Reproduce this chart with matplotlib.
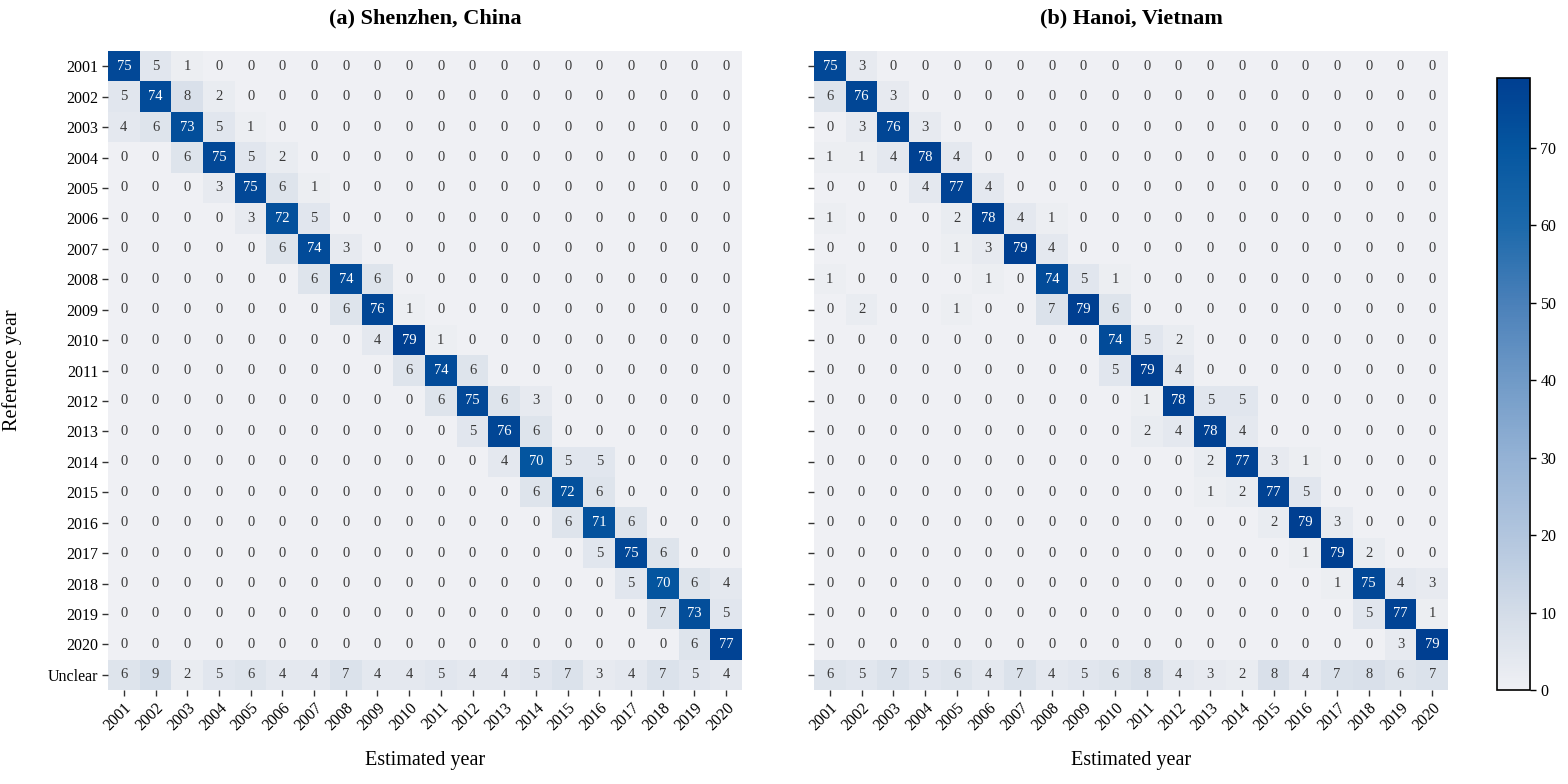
import numpy as np
import matplotlib
matplotlib.use("Agg")
import matplotlib.pyplot as plt
from matplotlib.colors import LinearSegmentedColormap

plt.rcParams['font.family'] = ['Liberation Serif', 'DejaVu Serif']

years = [str(y) for y in range(2001, 2021)]
row_labels = years + ["Unclear"]
col_labels = years

shenzhen = [
    [75, 5, 1, 0, 0, 0, 0, 0, 0, 0, 0, 0, 0, 0, 0, 0, 0, 0, 0, 0],
    [5, 74, 8, 2, 0, 0, 0, 0, 0, 0, 0, 0, 0, 0, 0, 0, 0, 0, 0, 0],
    [4, 6, 73, 5, 1, 0, 0, 0, 0, 0, 0, 0, 0, 0, 0, 0, 0, 0, 0, 0],
    [0, 0, 6, 75, 5, 2, 0, 0, 0, 0, 0, 0, 0, 0, 0, 0, 0, 0, 0, 0],
    [0, 0, 0, 3, 75, 6, 1, 0, 0, 0, 0, 0, 0, 0, 0, 0, 0, 0, 0, 0],
    [0, 0, 0, 0, 3, 72, 5, 0, 0, 0, 0, 0, 0, 0, 0, 0, 0, 0, 0, 0],
    [0, 0, 0, 0, 0, 6, 74, 3, 0, 0, 0, 0, 0, 0, 0, 0, 0, 0, 0, 0],
    [0, 0, 0, 0, 0, 0, 6, 74, 6, 0, 0, 0, 0, 0, 0, 0, 0, 0, 0, 0],
    [0, 0, 0, 0, 0, 0, 0, 6, 76, 1, 0, 0, 0, 0, 0, 0, 0, 0, 0, 0],
    [0, 0, 0, 0, 0, 0, 0, 0, 4, 79, 1, 0, 0, 0, 0, 0, 0, 0, 0, 0],
    [0, 0, 0, 0, 0, 0, 0, 0, 0, 6, 74, 6, 0, 0, 0, 0, 0, 0, 0, 0],
    [0, 0, 0, 0, 0, 0, 0, 0, 0, 0, 6, 75, 6, 3, 0, 0, 0, 0, 0, 0],
    [0, 0, 0, 0, 0, 0, 0, 0, 0, 0, 0, 5, 76, 6, 0, 0, 0, 0, 0, 0],
    [0, 0, 0, 0, 0, 0, 0, 0, 0, 0, 0, 0, 4, 70, 5, 5, 0, 0, 0, 0],
    [0, 0, 0, 0, 0, 0, 0, 0, 0, 0, 0, 0, 0, 6, 72, 6, 0, 0, 0, 0],
    [0, 0, 0, 0, 0, 0, 0, 0, 0, 0, 0, 0, 0, 0, 6, 71, 6, 0, 0, 0],
    [0, 0, 0, 0, 0, 0, 0, 0, 0, 0, 0, 0, 0, 0, 0, 5, 75, 6, 0, 0],
    [0, 0, 0, 0, 0, 0, 0, 0, 0, 0, 0, 0, 0, 0, 0, 0, 5, 70, 6, 4],
    [0, 0, 0, 0, 0, 0, 0, 0, 0, 0, 0, 0, 0, 0, 0, 0, 0, 7, 73, 5],
    [0, 0, 0, 0, 0, 0, 0, 0, 0, 0, 0, 0, 0, 0, 0, 0, 0, 0, 6, 77],
    [6, 9, 2, 5, 6, 4, 4, 7, 4, 4, 5, 4, 4, 5, 7, 3, 4, 7, 5, 4],
]

hanoi = [
    [75, 3, 0, 0, 0, 0, 0, 0, 0, 0, 0, 0, 0, 0, 0, 0, 0, 0, 0, 0],
    [6, 76, 3, 0, 0, 0, 0, 0, 0, 0, 0, 0, 0, 0, 0, 0, 0, 0, 0, 0],
    [0, 3, 76, 3, 0, 0, 0, 0, 0, 0, 0, 0, 0, 0, 0, 0, 0, 0, 0, 0],
    [1, 1, 4, 78, 4, 0, 0, 0, 0, 0, 0, 0, 0, 0, 0, 0, 0, 0, 0, 0],
    [0, 0, 0, 4, 77, 4, 0, 0, 0, 0, 0, 0, 0, 0, 0, 0, 0, 0, 0, 0],
    [1, 0, 0, 0, 2, 78, 4, 1, 0, 0, 0, 0, 0, 0, 0, 0, 0, 0, 0, 0],
    [0, 0, 0, 0, 1, 3, 79, 4, 0, 0, 0, 0, 0, 0, 0, 0, 0, 0, 0, 0],
    [1, 0, 0, 0, 0, 1, 0, 74, 5, 1, 0, 0, 0, 0, 0, 0, 0, 0, 0, 0],
    [0, 2, 0, 0, 1, 0, 0, 7, 79, 6, 0, 0, 0, 0, 0, 0, 0, 0, 0, 0],
    [0, 0, 0, 0, 0, 0, 0, 0, 0, 74, 5, 2, 0, 0, 0, 0, 0, 0, 0, 0],
    [0, 0, 0, 0, 0, 0, 0, 0, 0, 5, 79, 4, 0, 0, 0, 0, 0, 0, 0, 0],
    [0, 0, 0, 0, 0, 0, 0, 0, 0, 0, 1, 78, 5, 5, 0, 0, 0, 0, 0, 0],
    [0, 0, 0, 0, 0, 0, 0, 0, 0, 0, 2, 4, 78, 4, 0, 0, 0, 0, 0, 0],
    [0, 0, 0, 0, 0, 0, 0, 0, 0, 0, 0, 0, 2, 77, 3, 1, 0, 0, 0, 0],
    [0, 0, 0, 0, 0, 0, 0, 0, 0, 0, 0, 0, 1, 2, 77, 5, 0, 0, 0, 0],
    [0, 0, 0, 0, 0, 0, 0, 0, 0, 0, 0, 0, 0, 0, 2, 79, 3, 0, 0, 0],
    [0, 0, 0, 0, 0, 0, 0, 0, 0, 0, 0, 0, 0, 0, 0, 1, 79, 2, 0, 0],
    [0, 0, 0, 0, 0, 0, 0, 0, 0, 0, 0, 0, 0, 0, 0, 0, 1, 75, 4, 3],
    [0, 0, 0, 0, 0, 0, 0, 0, 0, 0, 0, 0, 0, 0, 0, 0, 0, 5, 77, 1],
    [0, 0, 0, 0, 0, 0, 0, 0, 0, 0, 0, 0, 0, 0, 0, 0, 0, 0, 3, 79],
    [6, 5, 7, 5, 6, 4, 7, 4, 5, 6, 8, 4, 3, 2, 8, 4, 7, 8, 6, 7],
]

titles = ["(a) Shenzhen, China", "(b) Hanoi, Vietnam"]
cbar_ticks = [0, 10, 20, 30, 40, 50, 60, 70]

vmin, vmax = 0, 79
cmap = LinearSegmentedColormap.from_list(
    "cm_blues",
    [(0.0, "#eff0f4"), (10 / 79, "#d3dce8"), (20 / 79, "#b1c5de"),
     (30 / 79, "#94b2d5"), (40 / 79, "#709ac7"), (50 / 79, "#4a80b9"),
     (60 / 79, "#1c69ab"), (70 / 79, "#0556a0"), (1.0, "#003f91")])

fig = plt.figure(figsize=(15.68, 7.84), dpi=100)
W, H = 1568, 784
ax_pos = [(108, 51, 634, 639), (814, 51, 634, 639)]
axes = []
for (l, t, w, h) in ax_pos:
    axes.append(fig.add_axes([l / W, 1 - (t + h) / H, w / W, h / H]))
cax = fig.add_axes([1497 / W, 1 - 690 / H, 33 / W, 612 / H])

for k, (ax, data, title) in enumerate(zip(axes, [shenzhen, hanoi], titles)):
    arr = np.array(data)
    im = ax.imshow(arr, cmap=cmap, vmin=vmin, vmax=vmax, aspect='auto',
                   interpolation='nearest')
    for i in range(arr.shape[0]):
        for j in range(arr.shape[1]):
            v = arr[i, j]
            ax.text(j, i, str(v), ha='center', va='center', fontsize=10.5,
                    color='white' if v > 40 else '#3a3a3a')
    ax.set_xticks(range(len(col_labels)))
    ax.set_xticklabels(col_labels, rotation=45, ha='right',
                       rotation_mode='anchor', fontsize=11.5)
    ax.set_yticks(range(len(row_labels)))
    if k == 0:
        ax.set_yticklabels(row_labels, fontsize=11.5)
        ax.set_ylabel("Reference year", fontsize=14.5)
        ax.yaxis.set_label_coords(-0.135, 0.5)
    else:
        ax.set_yticklabels([])
    ax.tick_params(axis='both', length=4, width=1, color='#333333', pad=3)
    for s in ax.spines.values():
        s.set_visible(False)
    ax.set_xlabel("Estimated year", fontsize=14.5)
    ax.xaxis.set_label_coords(0.5, -0.095)
    ax.set_title(title, fontsize=16, fontweight='bold', pad=20)

cb = fig.colorbar(im, cax=cax, ticks=cbar_ticks)
cb.outline.set_edgecolor('black')
cb.outline.set_linewidth(1.2)
cb.ax.tick_params(labelsize=11.5, length=4, width=1)

fig.savefig("out.png", dpi=100)
